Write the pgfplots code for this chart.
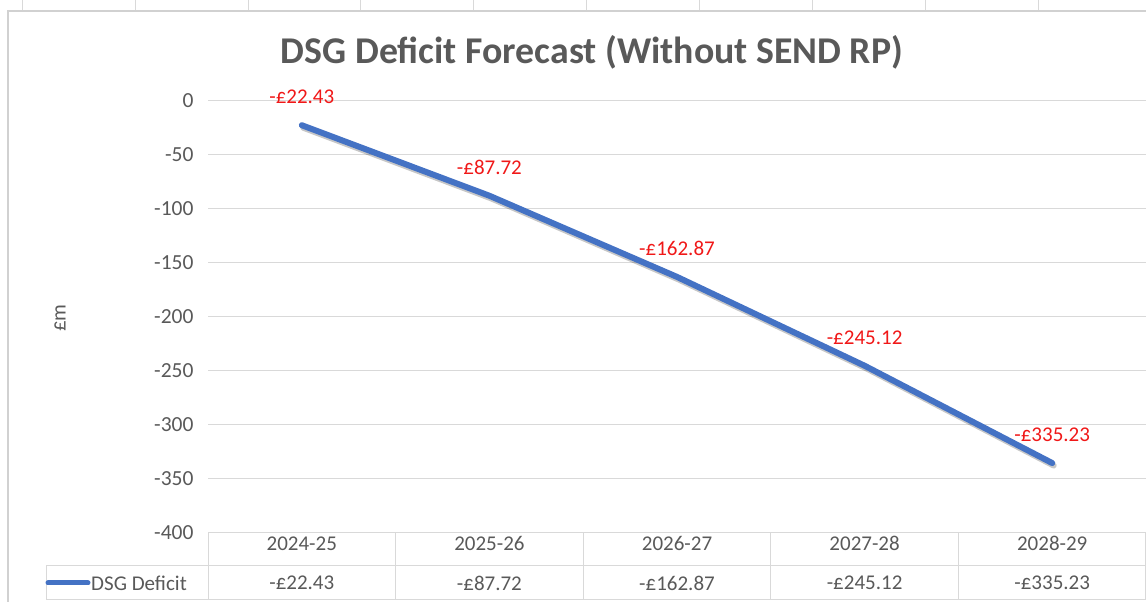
\documentclass[border=0pt]{standalone}
\usepackage{fontspec}
\setmainfont{Carlito}
\usepackage{pgfplots}
\pgfplotsset{compat=1.18}
\definecolor{txt}{HTML}{595959}
\definecolor{gridc}{HTML}{D9D9D9}
\definecolor{linec}{HTML}{4472C4}
\definecolor{lab}{HTML}{F01818}
\newcommand{\lf}{\fontsize{21}{24}\selectfont}
\begin{document}
\begin{tikzpicture}[x=1pt,y=1pt]
\path[use as bounding box] (0,0) rectangle (1146,602);
% spreadsheet column marks
\foreach \xx in {22,135,248,360,473,586,699,812,925,1038}
  \draw[gridc, line width=1pt] (\xx,602) -- (\xx,591);
\draw[black!18, line width=1.2pt] (8,0) -- (8,591) -- (1146,591);
% title and axis title
\node[font=\fontsize{37.8}{42}\selectfont\bfseries, text=txt] at (592,550) {DSG Deficit Forecast (Without SEND RP)};
\node[font=\lf, text=txt, rotate=90] at (60,284) {£m};
\begin{axis}[
  at={(208pt,69pt)}, anchor=south west,
  scale only axis, width=938pt, height=432pt,
  xmin=-0.5, xmax=4.5, ymin=-400, ymax=0,
  axis line style={draw=none},
  major tick length=0pt,
  ytick={-400,-350,-300,-250,-200,-150,-100,-50,0},
  yticklabels={-400,-350,-300,-250,-200,-150,-100,-50,0},
  xtick={0,1,2,3,4},
  xticklabels={2024-25,2025-26,2026-27,2027-28,2028-29},
  ymajorgrids, grid style={gridc, line width=1pt},
  ticklabel style={font=\lf, text=txt},
  yticklabel style={xshift=-11pt, font=\fontsize{21.5}{24}\selectfont},
  xticklabel style={anchor=north},
  clip=false,
  nodes near coords,
  point meta=explicit symbolic,
  nodes near coords style={font=\lf, text=lab, anchor=center, yshift=28pt},
]
\addplot[black, opacity=0.22, line width=6pt, line cap=round, line join=round,
  forget plot, nodes near coords={}, transform canvas={xshift=1.5pt,yshift=-2.5pt}]
  coordinates {(0,-22.43) (1,-87.72) (2,-162.87) (3,-245.12) (4,-335.23)};
\addplot[linec, line width=6pt, line cap=round, line join=round, mark=none]
  coordinates {(0,-22.43) [-£22.43] (1,-87.72) [-£87.72] (2,-162.87) [-£162.87] (3,-245.12) [-£245.12] (4,-335.23) [-£335.23]};
\end{axis}
% data table
\draw[gridc, line width=1pt] (208,69) -- (208,2);
\foreach \xx in {395.6,583.2,770.8,958.4,1145}
  \draw[gridc, line width=1pt] (\xx,69) -- (\xx,2);
\draw[gridc, line width=1pt] (46,36) -- (1146,36);
\draw[gridc, line width=1pt] (46,2) -- (1146,2);
\draw[gridc, line width=1pt] (46,2) -- (46,36);
\draw[linec, line width=5pt, line cap=round] (48,19) -- (88,19);
\node[font=\lf, text=txt, anchor=west, inner sep=0pt] at (91,19) {DSG Deficit};
\foreach \xx/\vv in {301.8/-£22.43, 489.4/-£87.72, 677/-£162.87, 864.6/-£245.12, 1052.2/-£335.23}
  \node[font=\lf, text=txt] at (\xx,19) {\vv};
\end{tikzpicture}
\end{document}
